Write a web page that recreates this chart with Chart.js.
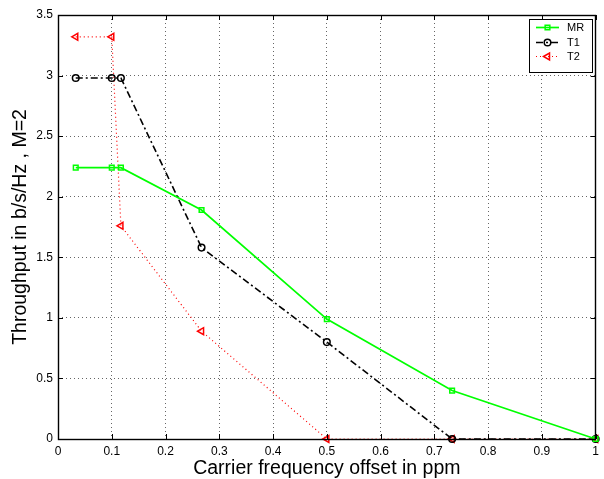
<!DOCTYPE html>
<html>
<head>
<meta charset="utf-8">
<script src="https://cdn.jsdelivr.net/npm/chart.js@4/dist/chart.umd.min.js"></script>
<style>
  html, body { margin: 0; padding: 0; background: #fff; }
  #wrap { width: 604px; height: 479px; position: relative; }
</style>
</head>
<body>
<div id="wrap"><canvas id="c" width="604" height="479"></canvas></div>
<script>
// ---- data ----
const xValues  = [0.033, 0.1, 0.117, 0.267, 0.5, 0.733, 1];
const mrValues = [2.24, 2.24, 2.24, 1.89, 0.99, 0.40, 0];
const t1Values = [2.98, 2.98, 2.98, 1.58, 0.80, 0, 0];
const t2Values = [3.32, 3.32, 1.76, 0.89, 0, 0, 0];
const seriesNames = ['MR', 'T1', 'T2'];
const xTickValues = [0, 0.1, 0.2, 0.3, 0.4, 0.5, 0.6, 0.7, 0.8, 0.9, 1];
const yTickValues = [0, 0.5, 1, 1.5, 2, 2.5, 3, 3.5];
const xTitle = 'Carrier frequency offset in ppm';
const yTitle = 'Throughput in b/s/Hz , M=2';

const pts = (ys) => xValues.map((x, i) => ({ x: x, y: ys[i] }));

const styles = [
  { color: '#00ff00', dash: [], width: 1.7, point: 'rect', radius: 3.3, rot: 0 },
  { color: '#000000', dash: [7, 3, 2, 3], width: 1.6, point: 'circle', radius: 3.3, rot: 0 },
  { color: '#ff0000', dash: [1, 3], width: 1.2, point: 'triangle', radius: 4, rot: -90 }
];
const seriesValues = [mrValues, t1Values, t2Values];

const datasets = seriesNames.map((name, i) => ({
  label: name,
  data: pts(seriesValues[i]),
  showLine: true,
  borderColor: styles[i].color,
  backgroundColor: 'rgba(0,0,0,0)',
  borderWidth: styles[i].width,
  borderDash: styles[i].dash,
  pointStyle: styles[i].point,
  pointRadius: styles[i].radius,
  pointRotation: styles[i].rot,
  pointBorderColor: styles[i].color,
  pointBackgroundColor: 'rgba(255,255,255,0)',
  pointBorderWidth: 1.5,
  tension: 0,
  clip: false
}));

const framePlugin = {
  id: 'frame',
  afterDatasetsDraw(chart) {
    const { ctx, chartArea: a, scales } = chart;
    const xs = scales.x, ys = scales.y;
    ctx.save();
    ctx.setLineDash([]);
    ctx.strokeStyle = '#000';
    ctx.lineWidth = 1.4;
    // frame
    ctx.strokeRect(Math.round(a.left) + 0.5, Math.round(a.top) + 0.5,
                   Math.round(a.right - a.left) - 1, Math.round(a.bottom - a.top));
    // inner ticks
    ctx.lineWidth = 1;
    ctx.beginPath();
    xTickValues.forEach(v => {
      const px = Math.round(xs.getPixelForValue(v)) + 0.5;
      ctx.moveTo(px, a.bottom); ctx.lineTo(px, a.bottom - 5);
      ctx.moveTo(px, a.top); ctx.lineTo(px, a.top + 5);
    });
    yTickValues.forEach(v => {
      const py = Math.round(ys.getPixelForValue(v)) + 0.5;
      ctx.moveTo(a.left, py); ctx.lineTo(a.left + 5, py);
      ctx.moveTo(a.right, py); ctx.lineTo(a.right - 5, py);
    });
    ctx.stroke();

    // legend box
    const bx = 529.5, by = 19.5, bw = 63, bh = 53;
    ctx.fillStyle = '#fff';
    ctx.fillRect(bx, by, bw, bh);
    ctx.lineWidth = 1;
    ctx.strokeRect(bx, by, bw, bh);
    const rowY = [27, 42, 56];
    ctx.font = '11px "Liberation Sans", Arial, sans-serif';
    ctx.textBaseline = 'middle';
    ctx.textAlign = 'left';
    seriesNames.forEach((name, i) => {
      const s = styles[i];
      const y = rowY[i] + 0.5;
      ctx.save();
      ctx.strokeStyle = s.color;
      ctx.lineWidth = s.width;
      ctx.setLineDash(s.dash);
      ctx.beginPath();
      ctx.moveTo(536, y); ctx.lineTo(559, y);
      ctx.stroke();
      ctx.setLineDash([]);
      ctx.lineWidth = 1.5;
      ctx.fillStyle = 'rgba(255,255,255,0)';
      Chart.helpers.drawPoint(ctx, {
        pointStyle: s.point, radius: s.radius, rotation: s.rot, borderWidth: 1.5
      }, 547.5, y);
      ctx.restore();
      ctx.fillStyle = '#000';
      ctx.fillText(name, 567, y + 0.5);
    });
    ctx.restore();
  }
};

const tickFont = { family: '"Liberation Sans", Arial, sans-serif', size: 12 };
const titleFont = { family: '"Liberation Sans", Arial, sans-serif', size: 19.5, lineHeight: 1 };
const gridStyle = {
  color: 'rgba(0,0,0,0.6)',
  lineWidth: 1,
  drawTicks: false
};
const borderStyle = { display: false, dash: [1, 3] };

new Chart(document.getElementById('c'), {
  type: 'scatter',
  data: { datasets: datasets },
  options: {
    responsive: false,
    animation: false,
    devicePixelRatio: 1,
    layout: { padding: { top: 15, right: 5, left: 0, bottom: 0 } },
    plugins: { legend: { display: false }, tooltip: { enabled: false } },
    scales: {
      x: {
        type: 'linear', min: 0, max: 1,
        afterBuildTicks: (s) => { s.ticks = xTickValues.map(v => ({ value: v })); },
        afterFit: (s) => { s.height = 40; },
        ticks: {
          color: '#000', font: tickFont, padding: 5, maxRotation: 0,
          callback: (v) => String(v)
        },
        grid: Object.assign({}, gridStyle),
        border: Object.assign({}, borderStyle),
        title: {
          display: true, text: xTitle, color: '#000',
          font: titleFont,
          padding: { top: 0, bottom: 1 }
        }
      },
      y: {
        type: 'linear', min: 0, max: 3.5,
        afterBuildTicks: (s) => { s.ticks = yTickValues.map(v => ({ value: v })); },
        afterFit: (s) => { s.width = 58; },
        ticks: {
          color: '#000', font: tickFont, padding: 5,
          callback: (v) => String(v)
        },
        grid: Object.assign({}, gridStyle),
        border: Object.assign({}, borderStyle),
        title: {
          display: true, text: yTitle, color: '#000',
          font: titleFont,
          padding: { top: 10.5, bottom: 0 }
        }
      }
    },
    elements: { line: { borderJoinStyle: 'miter' } }
  },
  plugins: [framePlugin]
});
</script>
</body>
</html>
